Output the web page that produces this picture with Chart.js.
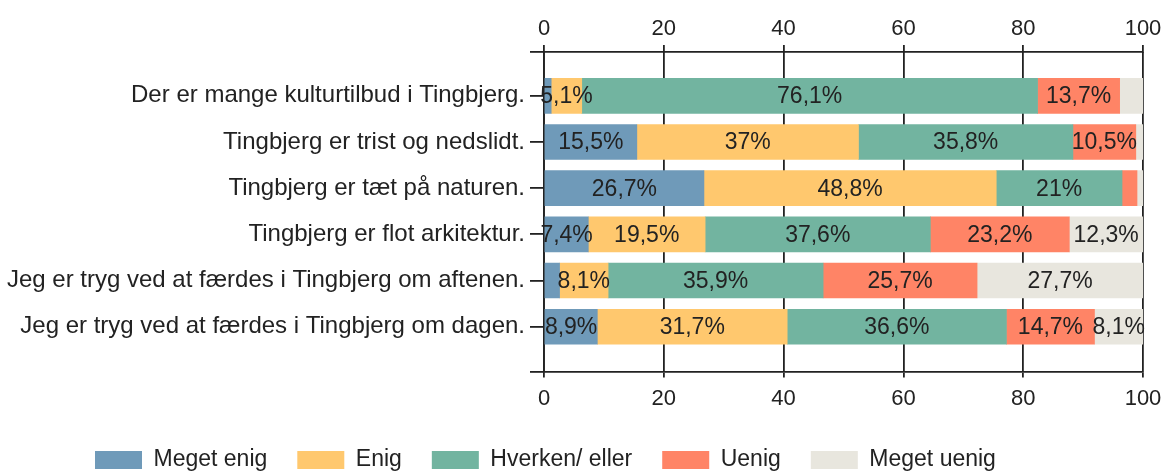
<!DOCTYPE html>
<html>
<head>
<meta charset="utf-8">
<script src="https://cdn.jsdelivr.net/npm/chart.js@4.4.0/dist/chart.umd.min.js"></script>
<style>
  body { margin: 0; background: #fff; }
  #wrap { width: 1171px; height: 473px; position: relative; }
</style>
</head>
<body>
<div id="wrap"><canvas id="chart"></canvas></div>
<script>
var categories = [
  "Der er mange kulturtilbud i Tingbjerg.",
  "Tingbjerg er trist og nedslidt.",
  "Tingbjerg er tæt på naturen.",
  "Tingbjerg er flot arkitektur.",
  "Jeg er tryg ved at færdes i Tingbjerg om aftenen.",
  "Jeg er tryg ved at færdes i Tingbjerg om dagen."
];
var seriesNames = ["Meget enig", "Enig", "Hverken/ eller", "Uenig", "Meget uenig"];
var megetEnig  = [1.2, 15.5, 26.7, 7.4, 2.6, 8.9];
var enig       = [5.1, 37, 48.8, 19.5, 8.1, 31.7];
var hverken    = [76.1, 35.8, 21, 37.6, 35.9, 36.6];
var uenig      = [13.7, 10.5, 2.5, 23.2, 25.7, 14.7];
var megetUenig = [3.9, 1.2, 1.0, 12.3, 27.7, 8.1];
var xTicks = [0, 20, 40, 60, 80, 100];

var colors = ["#6f9ab9", "#ffc86e", "#72b4a0", "#ff8466", "#e8e6de"];
var lineCol = "#222";
var txtCol = "#222";

Chart.defaults.font.family = "'Liberation Sans', Arial, sans-serif";
Chart.defaults.font.size = 23;
Chart.defaults.color = txtCol;

function rows(vals) {
  return vals.map(function(v, i) { return { x: v, y: i }; });
}

var allSeries = [megetEnig, enig, hverken, uenig, megetUenig];
var datasets = allSeries.map(function(vals, k) {
  return {
    label: seriesNames[k],
    data: rows(vals),
    backgroundColor: colors[k],
    borderWidth: 0,
    barThickness: 35
  };
});

// percent labels inside the segments
var segLabels = {
  id: "segLabels",
  afterDatasetsDraw: function(chart) {
    var ctx = chart.ctx;
    ctx.save();
    ctx.font = "23px 'Liberation Sans', Arial, sans-serif";
    ctx.fillStyle = txtCol;
    ctx.textAlign = "center";
    ctx.textBaseline = "middle";
    chart.data.datasets.forEach(function(ds, k) {
      var meta = chart.getDatasetMeta(k);
      meta.data.forEach(function(el, i) {
        var v = ds.data[i].x;
        if (v < 4) return;
        var c = el.getCenterPoint();
        ctx.fillText(String(v).replace(".", ",") + "%", c.x, c.y + 1);
      });
    });
    ctx.restore();
  }
};

// shift the legend row so it starts under the labels like the original
var legendShift = {
  id: "legendShift",
  afterLayout: function(chart) {
    if (chart.legend) chart.legend.left = 65;
  }
};

function setTicks(scale) {
  scale.ticks = xTicks.map(function(v) { return { value: v }; });
}

new Chart(document.getElementById("chart"), {
  type: "bar",
  data: { datasets: datasets },
  options: {
    indexAxis: "y",
    responsive: true,
    maintainAspectRatio: false,
    animation: false,
    layout: { padding: { left: 0, right: 28, top: 0, bottom: 0 } },
    plugins: {
      legend: {
        position: "bottom",
        align: "start",
        maxHeight: 54.5,
        labels: { boxWidth: 47, boxHeight: 18, padding: 30, font: { size: 23 }, color: txtCol }
      },
      tooltip: { enabled: false }
    },
    scales: {
      x: {
        type: "linear",
        position: "bottom",
        stacked: true,
        min: 0,
        max: 100,
        afterBuildTicks: setTicks,
        afterFit: function(s) { s.height = 47; },
        grid: { color: lineCol, lineWidth: 1.8, tickLength: 6, drawOnChartArea: true },
        border: { color: lineCol, width: 1.8 },
        ticks: { padding: 8, font: { size: 22 }, color: txtCol }
      },
      x2: {
        type: "linear",
        position: "top",
        min: 0,
        max: 100,
        afterBuildTicks: setTicks,
        afterFit: function(s) { s.height = 52; },
        grid: { color: lineCol, lineWidth: 1.8, tickLength: 7, drawOnChartArea: false },
        border: { color: lineCol, width: 1.8 },
        ticks: { padding: 3, font: { size: 22 }, color: txtCol }
      },
      y: {
        type: "linear",
        stacked: true,
        reverse: true,
        offset: false,
        min: -0.95,
        max: 5.97,
        afterBuildTicks: function(scale) {
          var vals = [-0.95].concat(categories.map(function(c, i) { return i; }), [5.97]);
          scale.ticks = vals.map(function(v) { return { value: v }; });
        },
        afterFit: function(s) { s.width = 544; },
        grid: { offset: false, color: lineCol, lineWidth: 1.8, tickLength: 14, drawOnChartArea: false },
        border: { color: lineCol, width: 1.8 },
        ticks: {
          padding: 5,
          font: { size: 24 },
          color: txtCol,
          callback: function(v) {
            return Number.isInteger(v) ? categories[v] : "";
          }
        }
      }
    }
  },
  plugins: [segLabels, legendShift]
});
</script>
</body>
</html>
